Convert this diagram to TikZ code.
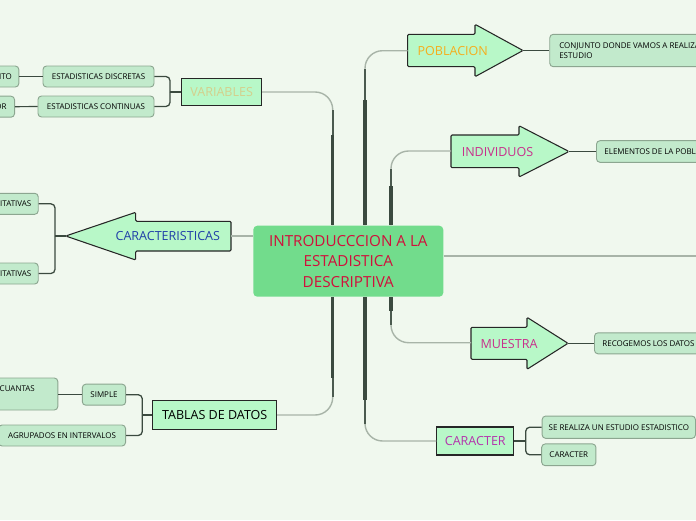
\documentclass[tikz,border=0pt]{standalone}
\usepackage{fontspec}
\setmainfont{Open Sans}
\usepackage{tikz}
\usetikzlibrary{positioning,calc}
\definecolor{bgGreen}{HTML}{F0F8EE}
\definecolor{boxFill}{HTML}{B8F8C8}
\definecolor{leafFill}{HTML}{C2EACC}
\definecolor{leafLine}{HTML}{8CA690}
\definecolor{coreFill}{HTML}{72DC8C}
\definecolor{trunkInk}{HTML}{3B4A3F}
\definecolor{thinLine}{HTML}{A8B4A8}
\definecolor{tRed}{HTML}{D0103C}
\definecolor{tKhaki}{HTML}{D4CF8C}
\definecolor{tBlue}{HTML}{2040A8}
\definecolor{tOrange}{HTML}{F5AE1E}
\definecolor{tMagenta}{HTML}{C8308C}
\definecolor{tPurple}{HTML}{B434AC}
\newcommand{\unitpx}{0.03cm}
\newcommand{\leaffont}{\fontsize{6.8}{9.1}\selectfont}
\newcommand{\mainfont}{\fontsize{10.7}{13}\selectfont}
\tikzset{
  mainbox/.style={draw=black!85, line width=0.9pt, fill=boxFill, inner sep=0pt, font=\mainfont},
  leafbox/.style={draw=leafLine, line width=0.8pt, fill=leafFill, rounded corners=3pt,
    inner sep=0pt, minimum height=21*\unitpx, font=\leaffont},
  arrowbox/.style={draw=black!85, line width=0.9pt, fill=boxFill, rounded corners=1pt},
  arrowtext/.style={font=\mainfont, inner sep=0pt},
  trunkthin/.style={draw=thinLine, line width=1.2pt, rounded corners=15pt},
  trunkmid/.style={draw=trunkInk!85!thinLine, line width=2pt},
  trunkthick/.style={draw=trunkInk, line width=3pt},
  bracket/.style={draw=trunkInk, line width=1.1pt, rounded corners=3.5pt},
  twig/.style={draw=trunkInk, line width=1pt},
}

\begin{document}
\begin{tikzpicture}[x=\unitpx, y=-\unitpx]
  \useasboundingbox (0,0) rectangle (696,520);
  \fill[bgGreen] (0,0) rectangle (696,520);
  \clip (0,0) rectangle (696,520);

  % central topic
  \node[fill=coreFill, rounded corners=4*\unitpx, minimum width=190*\unitpx, minimum height=71*\unitpx,
    align=center, text=tRed, font=\fontsize{13}{17.5}\selectfont, inner sep=0pt] (intro) at (348.3,261.2)
    {INTRODUCCCION A LA\\ESTADISTICA\\DESCRIPTIVA};

  % left branches
  \node[mainbox, minimum width=80*\unitpx, minimum height=27.5*\unitpx, text=tKhaki] (var) at (221.7,92) {VARIABLES};
  \node[mainbox, minimum width=124*\unitpx, minimum height=28.6*\unitpx] (tablas) at (214.7,415) {TABLAS DE DATOS};
  \draw[arrowbox] (231,221.3) -- (135.7,221.3) -- (135.7,212.3) -- (65.7,236) -- (135.7,260)
    -- (135.7,251) -- (231,251) -- cycle;
  \coordinate (cartip) at (65.7,236);
  \coordinate (cartail) at (231,236);
  \node[arrowtext, text=tBlue] (carac) at (167.8,236) {CARACTERISTICAS};

  \node[leafbox, minimum width=111*\unitpx] (disc) at (98.5,76.5) {ESTADISTICAS DISCRETAS};
  \node[leafbox, minimum width=116*\unitpx] (cont) at (96,106.5) {ESTADISTICAS CONTINUAS};
  \node[leafbox, anchor=east, inner xsep=7*\unitpx] (finito) at (19.3,76.5) {FINITO};
  \node[leafbox, anchor=east, inner xsep=8*\unitpx] (valor) at (15,106.7) {VALOR};
  \node[leafbox, anchor=east, inner xsep=7*\unitpx] (cuali) at (38.7,203.8) {CUALITATIVAS};
  \node[leafbox, anchor=east, inner xsep=7*\unitpx] (cuanti) at (38.7,273.5) {CUANTITATIVAS};
  \node[leafbox, minimum width=43.4*\unitpx] (simple) at (104,394.7) {SIMPLE};
  \node[leafbox, anchor=east, minimum width=127*\unitpx] (agrup) at (126,435.5) {AGRUPADOS EN INTERVALOS};
  \node[leafbox, anchor=east, minimum width=100*\unitpx, minimum height=32*\unitpx] (cuantasbox) at (58.3,394) {};
  \node[font=\leaffont, anchor=west, inner sep=0pt] (cuantas) at (-0.5,389) {CUANTAS};

  % right branches
  \draw[arrowbox] (407.7,34.3) -- (475,34.3) -- (475,24.3) -- (523,50.5) -- (475,76.7)
    -- (475,66.7) -- (407.7,66.7) -- cycle;
  \coordinate (pobtail) at (407.7,50.7);
  \coordinate (pobtip) at (523,50.5);
  \node[arrowtext, text=tOrange] (pob) at (452.8,51) {POBLACION};

  \draw[arrowbox] (451,135) -- (519,135) -- (519,125.7) -- (569,151.5) -- (519,177)
    -- (519,167.7) -- (451,167.7) -- cycle;
  \coordinate (indtail) at (451,151);
  \coordinate (indtip) at (569,151.5);
  \node[arrowtext, text=tMagenta] (ind) at (497.5,152) {INDIVIDUOS};

  \draw[arrowbox] (471,327.3) -- (527,327.3) -- (527,317.3) -- (568,343.3) -- (527,369.3)
    -- (527,359.3) -- (471,359.3) -- cycle;
  \coordinate (mutail) at (471,342.7);
  \coordinate (mutip) at (568,343.3);
  \node[arrowtext, text=tMagenta] (mues) at (509,344) {MUESTRA};

  \node[mainbox, minimum width=77*\unitpx, minimum height=28*\unitpx, text=tPurple] (caracter) at (475.3,441) {CARACTER};

  \node[leafbox, anchor=west, minimum height=32.4*\unitpx, inner xsep=9.5*\unitpx, align=left] (conj) at (549.3,50.5)
    {CONJUNTO DONDE VAMOS A REALIZAR EL\\ESTUDIO};
  \node[leafbox, anchor=west, minimum height=21.6*\unitpx, inner xsep=8*\unitpx] (elem) at (596,151.5) {ELEMENTOS DE LA POBLACION};
  \node[leafbox, anchor=west, inner xsep=8*\unitpx] (recog) at (594,343.3) {RECOGEMOS LOS DATOS};
  \node[leafbox, anchor=west, minimum width=153.3*\unitpx, minimum height=22.3*\unitpx] (serealiza) at (541.7,427.2)
    {SE REALIZA UN ESTUDIO ESTADISTICO};
  \node[leafbox, minimum width=54.3*\unitpx, minimum height=21.7*\unitpx] (carleaf) at (568.8,454.8) {CARACTER};

  % trunks from the central topic
  \coordinate (varx) at (332.7,110);   \coordinate (varmid) at (332.7,135);
  \coordinate (pobx) at (365,69);      \coordinate (pobmid) at (365,100);
  \coordinate (indx) at (391,169);     \coordinate (indmid) at (391,186);
  \coordinate (tabx) at (332.7,397);   \coordinate (tabmid) at (332.7,378);
  \coordinate (carx) at (365,424);     \coordinate (carmid) at (365,400);
  \coordinate (mux) at (391,325);      \coordinate (mumid) at (391,311);
  \coordinate (rightend) at (700,256);
  \draw[trunkthin] (intro.north -| varx) |- (var.east);
  \draw[trunkthin] (intro.north -| pobx) |- (pobtail);
  \draw[trunkthin] (intro.north -| indx) |- (indtail);
  \draw[trunkthin] (intro.south -| tabx) |- (tablas.east);
  \draw[trunkthin] (intro.south -| carx) |- (caracter.west);
  \draw[trunkthin] (intro.south -| mux) |- (mutail);
  \draw[trunkmid] (varmid) -- (varx);
  \draw[trunkmid] (pobmid) -- (pobx);
  \draw[trunkmid] (indmid) -- (indx);
  \draw[trunkmid] (tabmid) -- (tabx);
  \draw[trunkmid] (carmid) -- (carx);
  \draw[trunkmid] (mumid) -- (mux);
  \draw[trunkthick] (intro.north -| varx) -- (varmid);
  \draw[trunkthick] (intro.north -| pobx) -- (pobmid);
  \draw[trunkthick] (intro.north -| indx) -- (indmid);
  \draw[trunkthick] (intro.south -| tabx) -- (tabmid);
  \draw[trunkthick] (intro.south -| carx) -- (carmid);
  \draw[trunkthick] (intro.south -| mux) -- (mumid);
  \draw[trunkthin] (cartail) -- (cartail -| intro.west);
  \draw[trunkthin] (intro.east |- rightend) -- (rightend);

  % forks to the leaves
  \coordinate (varfork) at (170,92);
  \draw[bracket] (var.west) -- (varfork);
  \draw[bracket] (varfork) |- (disc.east);
  \draw[bracket] (varfork) |- (cont.east);
  \draw[twig] (disc.west) -- (finito.east);
  \draw[twig] (cont.west) -- (valor.east);

  \coordinate (carfork) at (55,236);
  \draw[bracket] (cartip) -- (carfork);
  \draw[bracket] (carfork) |- (cuali.east);
  \draw[bracket] (carfork) |- (cuanti.east);

  \coordinate (tabfork) at (142.3,415);
  \draw[bracket] (tablas.west) -- (tabfork);
  \draw[bracket] (tabfork) |- (simple.east);
  \draw[bracket] (tabfork) |- (agrup.east);
  \draw[twig] (simple.west) -- (simple.west -| cuantasbox.east);

  \draw[twig] (pobtip) -- (conj.west);
  \draw[twig] (indtip) -- (elem.west);
  \draw[twig] (mutip) -- (recog.west);

  \coordinate (charfork) at (525.7,441);
  \draw[bracket] (caracter.east) -- (charfork);
  \draw[bracket] (charfork) |- (serealiza.west);
  \draw[bracket] (charfork) |- (carleaf.west);
\end{tikzpicture}
\end{document}
